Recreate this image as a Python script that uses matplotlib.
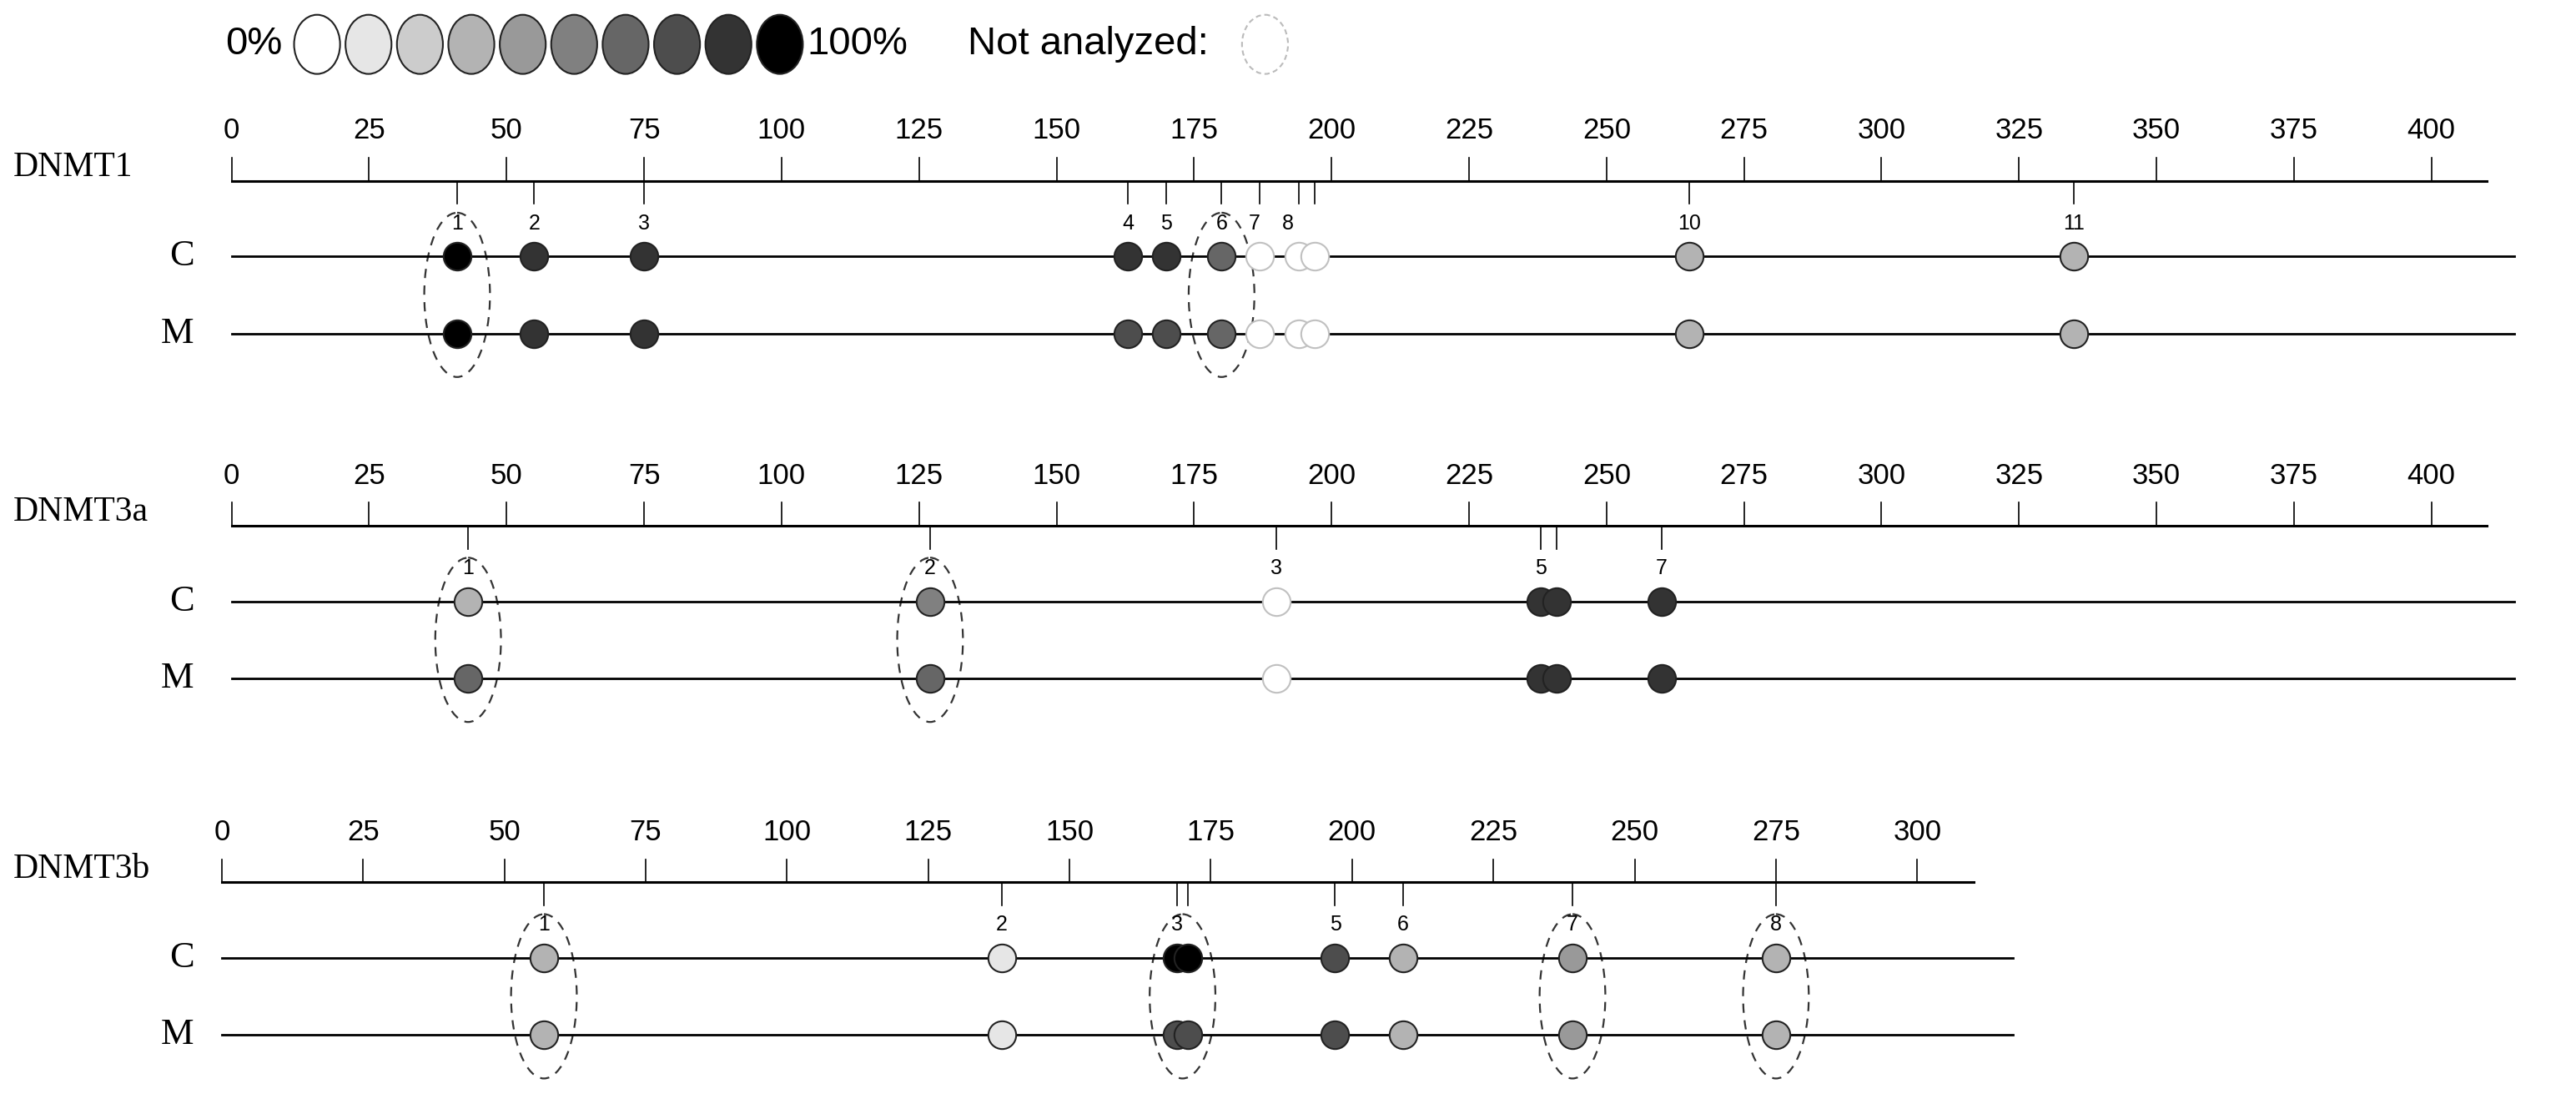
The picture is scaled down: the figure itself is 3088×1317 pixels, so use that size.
import matplotlib
matplotlib.use("Agg")
import matplotlib.pyplot as plt
from matplotlib.patches import Ellipse

# ---- data ----
legend_levels = [0, 10, 20, 30, 40, 50, 60, 70, 80, 100]

d1_ticks = list(range(0, 401, 25))
d1_sites = [41, 55, 75, 163, 170, 180, 187, 194, 197, 265, 335]
d1_labels = ["1", "2", "3", "4", "5", "6", "7", "8", "", "10", "11"]
d1_label_pos = [41, 55, 75, 163, 170, 180, 186, 192, 197, 265, 335]
d1_C = [100, 80, 80, 80, 80, 60, None, None, None, 30, 30]
d1_M = [100, 80, 80, 70, 70, 60, None, None, None, 30, 30]
d1_ell = [41, 180]

d3a_ticks = list(range(0, 401, 25))
d3a_sites = [43, 127, 190, 238, 241, 260]
d3a_labels = ["1", "2", "3", "5", "", "7"]
d3a_C = [30, 50, None, 80, 80, 80]
d3a_M = [60, 60, None, 80, 80, 80]
d3a_ell = [43, 127]

d3b_ticks = list(range(0, 301, 25))
d3b_sites = [57, 138, 169, 171, 197, 209, 239, 275]
d3b_labels = ["1", "2", "3", "", "5", "6", "7", "8"]
d3b_C = [30, 10, 100, 100, 70, 30, 40, 30]
d3b_M = [30, 10, 70, 70, 70, 30, 40, 30]
d3b_ell = [57, 170, 239, 275]


def gray(p):
    v = 1 - p / 100.0
    return (v, v, v)


W, H = 3088, 1317
fig = plt.figure(figsize=(W / 100, H / 100), dpi=100)

serif = "Liberation Serif"
sans = "Liberation Sans"

# legend axes in display-pixel coords
lax = fig.add_axes([0, 0, 1, 1])
lax.set_xlim(0, 1568)
lax.set_ylim(669, 0)
lax.axis("off")
lax.text(137, 27, "0%", fontsize=34, family=sans, va="center", ha="left")
for i, p in enumerate(legend_levels):
    lax.add_patch(Ellipse((193 + i * 31.3, 27), 28, 36, facecolor=gray(p),
                          edgecolor="#222222", lw=1.5))
lax.text(491, 27, "100%", fontsize=34, family=sans, va="center", ha="left")
lax.text(589, 27, "Not analyzed:", fontsize=34, family=sans, va="center", ha="left")
lax.add_patch(Ellipse((770, 27), 28, 36, facecolor="white",
                      edgecolor="#bbbbbb", lw=1.5, ls=(0, (3, 2))))


def panel(name, ticks, sites, labels, C, M, ells, x0, x1px, v1, yaxis, lineend,
          label_pos=None):
    s = (x1px - x0) / v1
    ax = fig.add_axes([0, 0, 1, 1])
    ax.set_xlim(-x0 / s, (1568 - x0) / s)
    ax.set_ylim(669, 0)
    ax.axis("off")
    axend = ticks[-1] + 10
    ax.plot([0, axend], [yaxis, yaxis], color="black", lw=2.2)
    for t in ticks:
        ax.plot([t, t], [yaxis, yaxis - 14], color="black", lw=1.2)
        ax.text(t, yaxis - 22, str(t), fontsize=25, family=sans, ha="center", va="bottom")
    ax.text(-x0 / s + 8 / s, yaxis - 8, name, fontsize=30, family=serif, ha="left", va="center")
    yC, yM = yaxis + 46, yaxis + 93
    for y, lab in [(yC, "C"), (yM, "M")]:
        ax.plot([0, lineend], [y, y], color="black", lw=2)
        ax.text(-x0 / s + 118 / s, y, lab, fontsize=32, family=serif, ha="right", va="center")
    lp = label_pos if label_pos else sites
    for x, l, xl in zip(sites, labels, lp):
        ax.plot([x, x], [yaxis, yaxis + 14], color="black", lw=1.2)
        if l:
            ax.text(xl, yaxis + 26, l, fontsize=18, family=sans, ha="center", va="center")
    for vals, y in [(C, yC), (M, yM)]:
        for x, p in zip(sites, vals):
            if p is None:
                ax.plot(x, y, "o", ms=24, mfc="white", mec="#c0c0c0", mew=1.5, ls="none")
            else:
                ax.plot(x, y, "o", ms=24, mfc=gray(p), mec="#222222", mew=1.5)
    for x in ells:
        ax.add_patch(Ellipse((x, (yC + yM) / 2), 40 / s, 100, fill=False,
                             edgecolor="#333333", lw=1.6, ls=(0, (5, 4))))


panel("DNMT1", d1_ticks, d1_sites, d1_labels, d1_C, d1_M, d1_ell,
      141, 1480, 400, 110, 415, d1_label_pos)
panel("DNMT3a", d3a_ticks, d3a_sites, d3a_labels, d3a_C, d3a_M, d3a_ell,
      141, 1480, 400, 320, 415)
panel("DNMT3b", d3b_ticks, d3b_sites, d3b_labels, d3b_C, d3b_M, d3b_ell,
      135, 1167, 300, 537, 317)

fig.savefig("out.png", dpi=100, facecolor="white")
